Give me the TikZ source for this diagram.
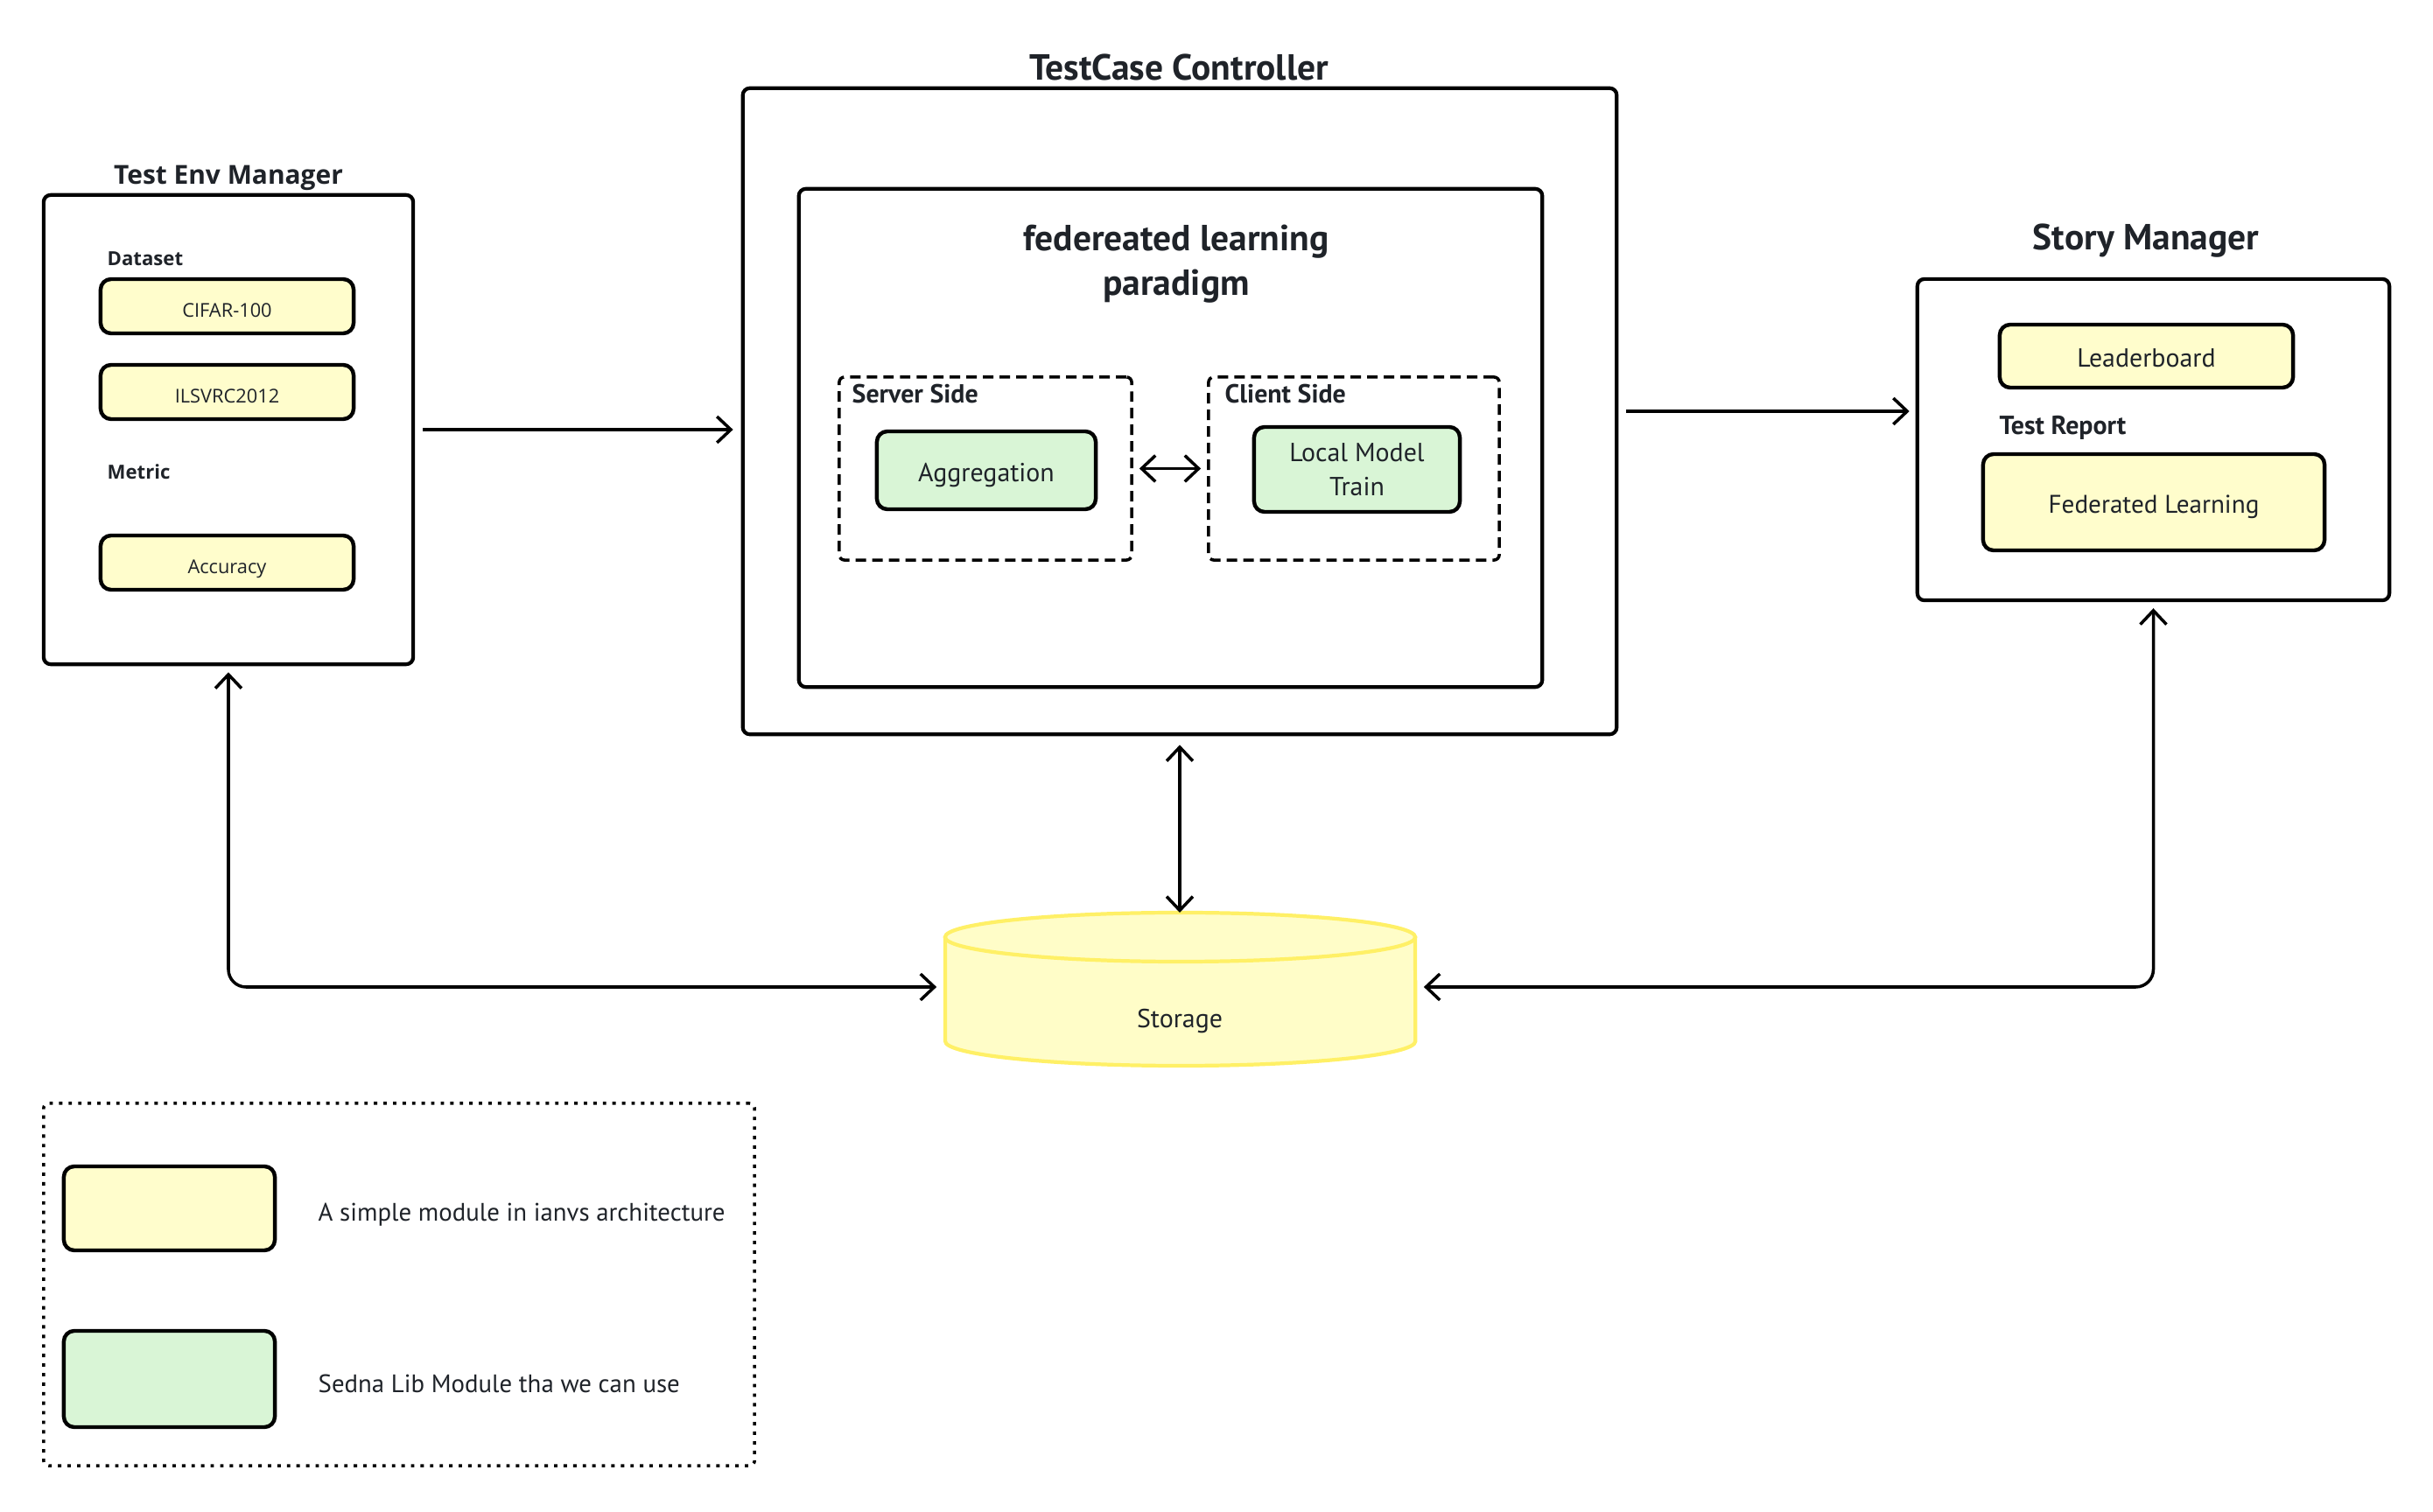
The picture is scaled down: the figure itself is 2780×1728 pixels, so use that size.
\documentclass[tikz,border=0pt]{standalone}
\usepackage{fontspec}
\setmainfont{PT Sans}
\newfontfamily\envfont{Open Sans}
\usetikzlibrary{arrows.meta}
\definecolor{ink}{HTML}{1F2329}
\definecolor{modyellow}{HTML}{FFFDCC}
\definecolor{modgreen}{HTML}{D9F5D6}
\definecolor{storeline}{HTML}{FFF066}
\definecolor{storefill}{HTML}{FFFDC8}

\tikzset{
  frame/.style={draw=black, line width=1.2pt, rounded corners=0.08cm, inner sep=0pt},
  module/.style={draw=black, line width=1.25pt, rounded corners=0.12cm, inner sep=0pt,
                 text=ink, font=\fontsize{8.5pt}{11pt}\selectfont, align=center,
                 text height=0.75em, text depth=0.02em},
  ymod/.style={module, fill=modyellow},
  gmod/.style={module, fill=modgreen},
  envmod/.style={module, fill=modyellow, font=\envfont\fontsize{6.2pt}{8pt}\selectfont},
  sidebox/.style={draw=black, line width=1pt, dash pattern=on 3.4pt off 2pt,
                  rounded corners=0.06cm, inner sep=0pt},
  title/.style={text=ink, font=\bfseries\fontsize{11.8pt}{14.5pt}\selectfont, align=center, inner sep=0pt},
  sublabel/.style={text=ink, font=\bfseries\fontsize{8.5pt}{10pt}\selectfont, anchor=west, inner sep=0pt},
  envlabel/.style={text=ink, font=\envfont\bfseries\fontsize{6.3pt}{8pt}\selectfont, anchor=west, inner sep=0pt},
  plain/.style={text=ink, font=\fontsize{8.2pt}{11pt}\selectfont, anchor=west, inner sep=0pt},
  link/.style={draw=black, line width=1pt, arrows={-Straight Barb[length=4.5pt,width=8.5pt,line width=1pt]}},
  biglink/.style={link, arrows={Straight Barb[length=4.5pt,width=8.5pt,line width=1pt]-Straight Barb[length=4.5pt,width=8.5pt,line width=1pt]}},
}

\begin{document}
\begin{tikzpicture}[x=0.01cm, y=-0.01cm]
  % page
  \fill[white] (0,0) rectangle (2780,1728);
  \useasboundingbox (0,0) rectangle (2780,1728);

  % ---------- Test Env Manager ----------
  \node[text=ink, font=\envfont\bfseries\fontsize{8.5pt}{10pt}\selectfont, inner sep=0pt] (temtitle) at (261,203) {Test Env Manager};
  \node[frame, minimum width=4.22cm, minimum height=5.36cm] (tem) at (261,491) {};
  \node[envlabel] (dslabel) at (122,296) {Dataset};
  \node[envmod, minimum width=2.89cm, minimum height=0.62cm] (cifar) at (259.5,350) {CIFAR-100};
  \node[envmod, minimum width=2.89cm, minimum height=0.62cm] (ilsvrc) at (259.5,448) {ILSVRC2012};
  \node[envlabel] (metlabel) at (122,539) {Metric};
  \node[envmod, minimum width=2.89cm, minimum height=0.62cm] (acc) at (259.5,643) {Accuracy};

  % ---------- TestCase Controller ----------
  \node[title] (tctitle) at (1347,77) {TestCase Controller};
  \node[frame, minimum width=9.98cm, minimum height=7.38cm] (tc) at (1348,470) {};
  \node[frame, minimum width=8.49cm, minimum height=5.69cm] (para) at (1337.5,500.5) {};
  \node[title] (paratitle) at (1344,302) {federeated learning\\paradigm};

  \node[sidebox, minimum width=3.34cm, minimum height=2.09cm] (server) at (1126,535.5) {};
  \node[sublabel] (serverlabel) at (973,450) {Server Side};
  \node[gmod, minimum width=2.50cm, minimum height=0.89cm] (agg) at (1127,537.5) {Aggregation};

  \node[sidebox, minimum width=3.32cm, minimum height=2.09cm] (client) at (1547,535.5) {};
  \node[sublabel] (clientlabel) at (1399,450) {Client Side};
  \node[gmod, minimum width=2.35cm, minimum height=0.97cm, text height=, text depth=-0.24em] (lmt) at (1550.5,536.5) {Local Model\\Train};

  % ---------- Story Manager ----------
  \node[title] (smtitle) at (2452,275) {Story Manager};
  \node[frame, minimum width=5.39cm, minimum height=3.67cm] (sm) at (2460.5,502.5) {};
  \node[ymod, minimum width=3.35cm, minimum height=0.72cm] (lead) at (2452.5,407) {Leaderboard};
  \node[sublabel] (reportlabel) at (2284,489) {Test Report};
  \node[ymod, minimum width=3.90cm, minimum height=1.10cm, font=\fontsize{8.3pt}{11pt}\selectfont] (fedl) at (2461,574) {Federated Learning};

  % ---------- Storage ----------
  \fill[storefill] (1080,1071) -- (1080,1190)
     arc[start angle=180, end angle=360, x radius=2.685cm, y radius=0.28cm]
     -- (1617,1071)
     arc[start angle=0, end angle=180, x radius=2.685cm, y radius=0.28cm] -- cycle;
  \draw[storeline, line width=1.2pt] (1080,1071) -- (1080,1190)
     arc[start angle=180, end angle=360, x radius=2.685cm, y radius=0.28cm]
     -- (1617,1071);
  \draw[storeline, line width=1.2pt] (1348.5,1071) ellipse[x radius=2.685cm, y radius=0.28cm];
  \node[minimum width=5.37cm, minimum height=1.2cm, inner sep=0pt] (store) at (1348.5,1128) {};
  \coordinate (storetop) at (1348,1043);
  \node[text=ink, font=\fontsize{8.5pt}{11pt}\selectfont, inner sep=0pt] (storelabel) at (1348,1167) {Storage};

  % ---------- Legend ----------
  \node[draw=black, line width=1pt, dash pattern=on 1.1pt off 2pt, rounded corners=0.06cm,
        minimum width=8.12cm, minimum height=4.14cm, inner sep=0pt] (legend) at (456,1468) {};
  \node[ymod, minimum width=2.41cm, minimum height=0.96cm] (legy) at (193.5,1381) {};
  \node[plain] (legytext) at (363,1388) {A simple module in ianvs architecture};
  \node[gmod, minimum width=2.41cm, minimum height=1.10cm] (legg) at (193.5,1576) {};
  \node[plain] (leggtext) at (363,1581) {Sedna Lib Module tha we can use};

  % ---------- Connectors ----------
  \draw[link, shorten <=0.09cm, shorten >=0.09cm] (tem.east) -- (tem.east -| tc.west);
  \draw[link, shorten <=0.09cm, shorten >=0.07cm] (tc.east) -- (tc.east -| sm.west);
  \draw[biglink, shorten <=0.07cm, shorten >=0.07cm] (server.east) -- (client.west);
  \draw[biglink, shorten <=0.1cm] (tc.south) -- (storetop);
  \draw[biglink, rounded corners=0.2cm, shorten <=0.07cm, shorten >=0.09cm] (tem.south) |- (store.west);
  \draw[biglink, rounded corners=0.2cm, shorten <=0.07cm, shorten >=0.09cm] (sm.south) |- (store.east);
\end{tikzpicture}
\end{document}
